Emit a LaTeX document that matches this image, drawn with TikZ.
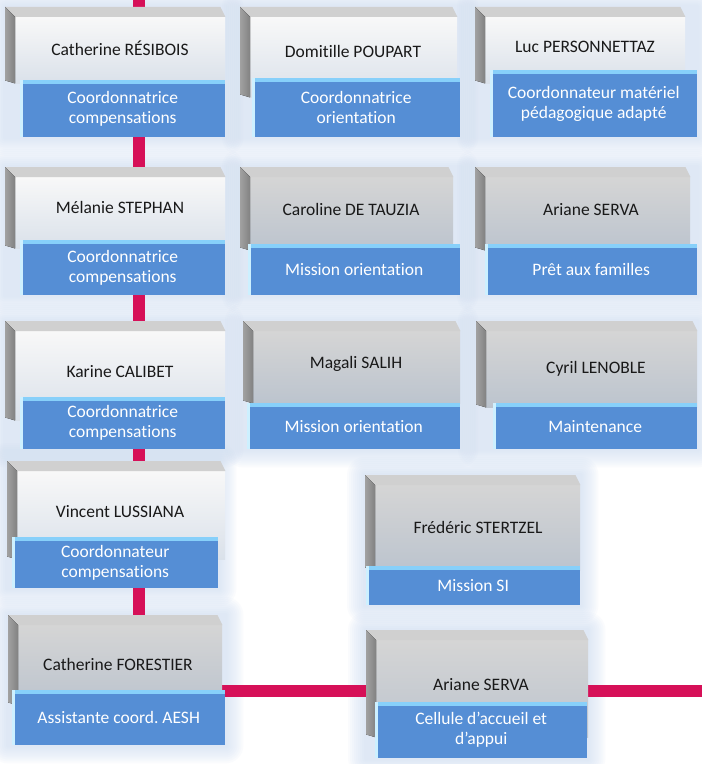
\documentclass[tikz,border=0pt]{standalone}
\usepackage{fontspec}
\setmainfont{Carlito}[Ligatures={NoCommon}]
\usepackage{tikz}
\usetikzlibrary{calc,backgrounds}
\frenchspacing

\definecolor{rolefill}{RGB}{85,142,213}
\definecolor{roletop}{RGB}{135,208,250}
\definecolor{roleleft}{RGB}{205,240,255}
\definecolor{linkpink}{RGB}{214,16,88}
\definecolor{sidegrey}{RGB}{130,130,130}
\definecolor{topgrey}{RGB}{208,208,208}
\definecolor{facewtop}{RGB}{248,248,248}
\definecolor{facewbot}{RGB}{218,225,234}
\definecolor{facegtop}{RGB}{213,213,213}
\definecolor{facegbot}{RGB}{188,196,206}
\definecolor{hazeblue}{RGB}{205,220,242}

\newcommand{\boxfont}{\fontsize{17.5bp}{20bp}\selectfont}
\newcommand{\bevel}[1]{%
  \fill[topgrey] ($(#1.north west)+(-10,-10)$) -- ($(#1.north east)+(-5,-10)$) -- (#1.north east) -- (#1.north west) -- cycle;
  \fill[left color=sidegrey!75, right color=sidegrey] ($(#1.north west)+(-10,-10)$) -- (#1.north west) -- (#1.south west) -- ($(#1.south west)+(-10,-3)$) -- cycle;
}
\newcommand{\roleedge}[1]{%
  \fill[roletop] (#1.north west) rectangle ($(#1.north east)+(0,4)$);
  \fill[roleleft] (#1.north west) rectangle ($(#1.south west)+(3,0)$);
}
\newcommand{\hazebox}[1]{%
  \foreach \g in {18,16,...,2}
    \fill[haze, rounded corners=\g bp] ($(#1.north west)+(-10-\g,-10-\g)$) rectangle ($(#1-r.south east)+(\g,\g)$);
}

\begin{document}
\begin{tikzpicture}[x=1bp, y=-1bp,
  wface/.style={inner sep=0, anchor=north west, top color=facewtop, bottom color=facewbot},
  gface/.style={inner sep=0, anchor=north west, top color=facegtop, bottom color=facegbot},
  pname/.style={inner sep=0, text=black!90, font=\boxfont, text height=11bp, text depth=0bp},
  role/.style={inner sep=0, anchor=north west, fill=rolefill, text=white, align=center, font=\boxfont},
  link/.style={draw=linkpink, line width=12bp},
  haze/.style={fill=hazeblue, fill opacity=0.09}
]
\useasboundingbox (0,0) rectangle (702,764);

% row 1
\node[wface, minimum width=210bp, minimum height=66bp] (resibois) at (15,17) {};
\bevel{resibois}
\node[pname] (resibois-n) at (120,50) {Catherine RÉSIBOIS};
\node[role, minimum width=205bp, minimum height=57bp] (resibois-r) at (20,80) {Coordonnatrice\\compensations};
\roleedge{resibois-r}

\node[wface, minimum width=207bp, minimum height=80bp] (poupart) at (250,17) {};
\bevel{poupart}
\node[pname] (poupart-n) at (353,52) {Domitille POUPART};
\node[role, minimum width=208bp, minimum height=59bp] (poupart-r) at (252,78) {Coordonnatrice\\orientation};
\roleedge{poupart-r}

\node[wface, minimum width=200bp, minimum height=66bp] (personnettaz) at (485,17) {};
\bevel{personnettaz}
\node[pname] (personnettaz-n) at (585,47) {Luc PERSONNETTAZ};
\node[role, minimum width=207bp, minimum height=67bp] (personnettaz-r) at (490,70) {Coordonnateur matériel\\pédagogique adapté};
\roleedge{personnettaz-r}

% row 2
\node[wface, minimum width=210bp, minimum height=71bp] (stephan) at (15,177) {};
\bevel{stephan}
\node[pname] (stephan-n) at (120,208) {Mélanie STEPHAN};
\node[role, minimum width=205bp, minimum height=55bp] (stephan-r) at (20,240) {Coordonnatrice\\compensations};
\roleedge{stephan-r}

\node[gface, minimum width=203bp, minimum height=73bp] (tauzia) at (250,177) {};
\bevel{tauzia}
\node[pname] (tauzia-n) at (351,210) {Caroline DE TAUZIA};
\node[role, minimum width=212bp, minimum height=51bp] (tauzia-r) at (248,244) {Mission orientation};
\roleedge{tauzia-r}

\node[gface, minimum width=205bp, minimum height=73bp] (serva) at (485,177) {};
\bevel{serva}
\node[pname] (serva-n) at (591,210) {Ariane SERVA};
\node[role, minimum width=212bp, minimum height=51bp] (serva-r) at (485,244) {Prêt aux familles};
\roleedge{serva-r}

% row 3
\node[wface, minimum width=210bp, minimum height=89bp] (calibet) at (15,331) {};
\bevel{calibet}
\node[pname] (calibet-n) at (120,372) {Karine CALIBET};
\node[role, minimum width=205bp, minimum height=52bp] (calibet-r) at (20,397) {Coordonnatrice\\compensations};
\roleedge{calibet-r}

\node[gface, minimum width=207bp, minimum height=72bp] (salih) at (253,331) {};
\bevel{salih}
\node[pname] (salih-n) at (356,363) {Magali SALIH};
\node[role, minimum width=213bp, minimum height=46bp] (salih-r) at (247,403) {Mission orientation};
\roleedge{salih-r}

\node[gface, minimum width=211bp, minimum height=76bp] (lenoble) at (486,331) {};
\bevel{lenoble}
\node[pname] (lenoble-n) at (596,368) {Cyril LENOBLE};
\node[role, minimum width=204bp, minimum height=46bp] (lenoble-r) at (493,403) {Maintenance};
\roleedge{lenoble-r}

% row 4
\node[wface, minimum width=208bp, minimum height=88bp] (lussiana) at (17,471) {};
\bevel{lussiana}
\node[pname] (lussiana-n) at (120,512) {Vincent LUSSIANA};
\node[role, minimum width=206bp, minimum height=51bp] (lussiana-r) at (12,537) {Coordonnateur\\compensations};
\roleedge{lussiana-r}

\node[gface, minimum width=205bp, minimum height=85bp] (stertzel) at (375,485) {};
\bevel{stertzel}
\node[pname] (stertzel-n) at (478,528) {Frédéric STERTZEL};
\node[role, minimum width=214bp, minimum height=39bp] (stertzel-r) at (366,566) {Mission SI};
\roleedge{stertzel-r}

% row 5
\node[gface, minimum width=204bp, minimum height=80bp] (forestier) at (18,625) {};
\bevel{forestier}
\node[pname] (forestier-n) at (118,665) {Catherine FORESTIER};
\node[role, minimum width=213bp, minimum height=55bp] (forestier-r) at (12,690) {Assistante coord. AESH};
\roleedge{forestier-r}

\node[gface, minimum width=212bp, minimum height=97bp] (serva2) at (376,640) {};
\bevel{serva2}
\node[pname] (serva2-n) at (481,685) {Ariane SERVA};
\node[role, minimum width=212bp, minimum height=56bp] (serva2-r) at (375,702) {Cellule d’accueil et\\d’appui};
\roleedge{serva2-r}

\coordinate (top) at (139,0);
\coordinate (rend) at (702,691);

\begin{scope}[on background layer]
  \fill[white] (0,0) rectangle (702,764);
  \foreach \f in {resibois,poupart,personnettaz,stephan,tauzia,serva,calibet,salih,lenoble,lussiana,stertzel,forestier,serva2}
    {\hazebox{\f}}
  \draw[link] (top) -- (top |- forestier.north);
  \draw[link] (forestier.east |- rend) -- (rend);
\end{scope}
\end{tikzpicture}
\end{document}
